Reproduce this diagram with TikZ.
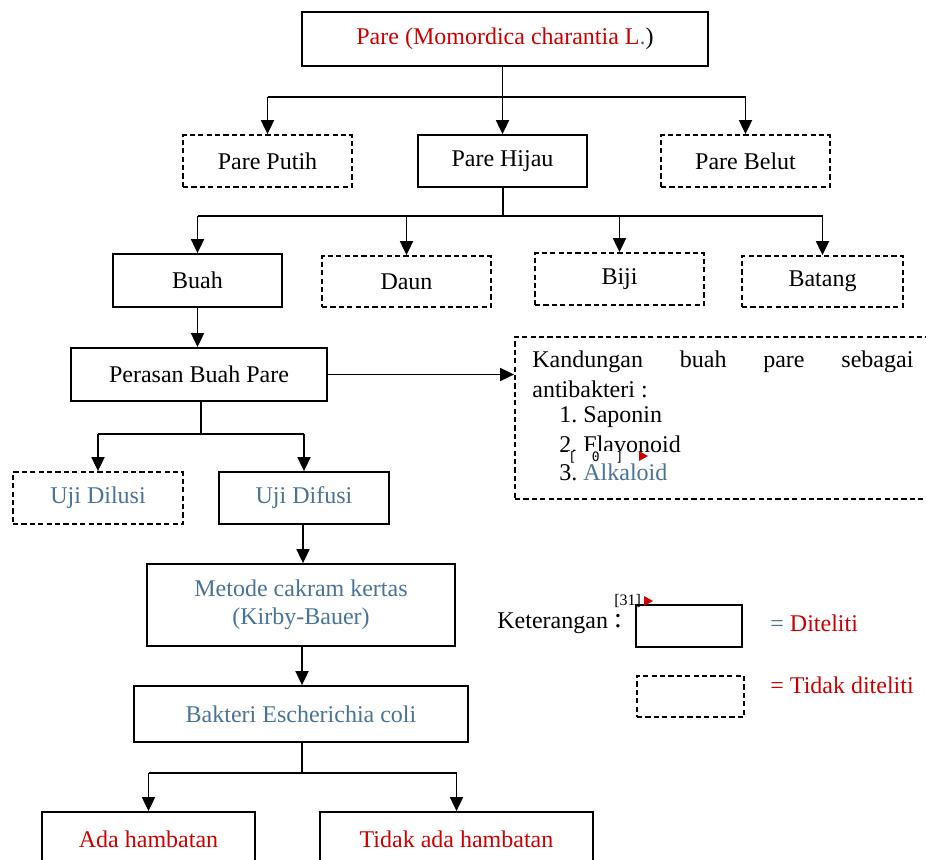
\documentclass[tikz,border=0pt]{standalone}
\usepackage{fontspec}
\setmainfont{Liberation Serif}
\setmonofont{DejaVu Sans Mono}
\usetikzlibrary{arrows.meta}
\definecolor{cred}{RGB}{204,0,0}
\definecolor{cblue}{RGB}{72,115,150}
\tikzset{
  box/.style={draw, line width=0.9pt, inner sep=0pt, align=center},
  solidbox/.style={box},
  dashbox/.style={box, dash pattern=on 2.6pt off 1.6pt},
  conn/.style={line width=0.9pt},
  arr/.style={line width=0.9pt, -{Triangle[length=7pt,width=6.5pt]}},
  txt/.style={inner sep=0pt, anchor=west},
}
\begin{document}
\begin{tikzpicture}[x=0.5pt,y=-0.5pt,font=\fontsize{12}{14}\selectfont]
\useasboundingbox (0,0) rectangle (926,859);
% boxes
\node[solidbox, minimum width=203pt, minimum height=27pt] (top) at (505,39)
  {\textcolor{cred}{Pare (Momordica charantia L}\textcolor{cblue}{.})};
\node[dashbox, minimum width=84.5pt, minimum height=26pt] (putih) at (267.5,161) {Pare Putih};
\node[solidbox, minimum width=84.5pt, minimum height=26pt] (hijau) at (502.5,161) {Pare Hijau};
\node[dashbox, minimum width=84.5pt, minimum height=26pt] (belut) at (745.5,161) {Pare Belut};
\node[solidbox, minimum width=84.5pt, minimum height=26.5pt] (buah) at (197.5,280.5) {Buah};
\node[dashbox, minimum width=84.5pt, minimum height=25.5pt] (daun) at (406.5,281.5) {Daun};
\node[dashbox, minimum width=84.5pt, minimum height=26pt] (biji) at (619.5,279) {Biji};
\node[dashbox, minimum width=80.5pt, minimum height=25.5pt] (batang) at (822.5,281.5) {Batang};
\node[solidbox, minimum width=128pt, minimum height=26.5pt] (perasan) at (199,374.5) {Perasan Buah Pare};
\node[dashbox, minimum width=212.5pt, minimum height=81pt] (kand) at (727.5,418) {};
\node[dashbox, minimum width=85pt, minimum height=26pt] (dilusi) at (98,498) {\textcolor{cblue}{Uji Dilusi}};
\node[solidbox, minimum width=85pt, minimum height=26pt] (difusi) at (304,498) {\textcolor{cblue}{Uji Difusi}};
\node[solidbox, minimum width=154pt, minimum height=41pt, text=cblue] (metode) at (301,605)
  {Metode cakram kertas\\ (Kirby-Bauer)};
\node[solidbox, minimum width=167pt, minimum height=28pt] (bakteri) at (301,714) {\textcolor{cblue}{Bakteri Escherichia coli}};
\node[solidbox, minimum width=106.5pt, minimum height=27pt] (ada) at (148.5,839) {\textcolor{cred}{Ada hambatan}};
\node[solidbox, minimum width=136.5pt, minimum height=27pt] (tidak) at (456.5,839) {\textcolor{cred}{Tidak ada hambatan}};
% kandungan text
\node[txt] (k1) at (532,362) {\hbox to 190.5pt{Kandungan\hfill buah\hfill pare\hfill sebagai}};
\node[txt] (k2) at (532,389) {antibakteri :};
\node[txt] (k3) at (559,417) {\makebox[12pt][l]{1.}Saponin};
\node[txt] (k4) at (559,444) {\makebox[12pt][l]{2.}Flavonoid};
\node[txt] (k5) at (559,472) {\makebox[12pt][l]{3.}\textcolor{cblue}{Alkaloid}};
\node[inner sep=0pt, fill=white, minimum height=5pt, anchor=west] (k0) at (568,457)
  {\ttfamily\fontsize{6.5}{7}\selectfont\makebox[27.5pt][s]{[\hfill 0\hfill ]}};
\fill[cred] (639,451) -- (648,456) -- (639,461) -- cycle;
% legend
\node[txt] (ket) at (497,623) {Keterangan\hspace{3pt}\raisebox{0.5pt}{\fontsize{14}{14}\selectfont :}};
\node[solidbox, minimum width=53pt, minimum height=21pt] (legs) at (689,626) {};
\node[dashbox, minimum width=53.5pt, minimum height=20.5pt] (legd) at (690.5,696.5) {};
\node[txt] (dit) at (770,623) {\textcolor{cblue}{=} \textcolor{cred}{Diteliti}};
\node[txt] (tdit) at (770,685) {\textcolor{cred}{= Tidak diteliti}};
\node[txt, font=\fontsize{8}{9}\selectfont] (ref) at (614,601) {[31]};
\fill[cred] (644,596) -- (653,601) -- (644,606) -- cycle;
% connectors level 1
\coordinate (j1) at (502,97);
\draw[arr] (top.south -| hijau) -- (hijau.north);
\draw[conn] (putih.north |- j1) -- (belut.north |- j1);
\draw[arr] (putih.north |- j1) -- (putih.north);
\draw[arr] (belut.north |- j1) -- (belut.north);
% level 2
\coordinate (j2) at (503,216);
\draw[conn] (hijau.south -| j2) -- (j2);
\draw[conn] (buah.north |- j2) -- (batang.north |- j2);
\draw[arr] (buah.north |- j2) -- (buah.north);
\draw[arr] (daun.north |- j2) -- (daun.north);
\draw[arr] (biji.north |- j2) -- (biji.north);
\draw[arr] (batang.north |- j2) -- (batang.north);
% buah -> perasan
\draw[arr] (buah.south) -- (buah.south |- perasan.north);
\draw[arr] (perasan.east) -- (perasan.east -| kand.west);
% perasan -> uji
\coordinate (j3) at (201,434);
\draw[conn] (perasan.south -| j3) -- (j3);
\draw[conn] (dilusi.north |- j3) -- (difusi.north |- j3);
\draw[arr] (dilusi.north |- j3) -- (dilusi.north);
\draw[arr] (difusi.north |- j3) -- (difusi.north);
% chain
\coordinate (c1) at (303,524);
\draw[arr] (difusi.south -| c1) -- (metode.north -| c1);
\coordinate (c2) at (302,646);
\draw[arr] (metode.south -| c2) -- (bakteri.north -| c2);
\coordinate (j4) at (302,773);
\draw[conn] (bakteri.south -| j4) -- (j4);
\draw[conn] (ada.north |- j4) -- (tidak.north |- j4);
\draw[arr] (ada.north |- j4) -- (ada.north);
\draw[arr] (tidak.north |- j4) -- (tidak.north);
\end{tikzpicture}
\end{document}
